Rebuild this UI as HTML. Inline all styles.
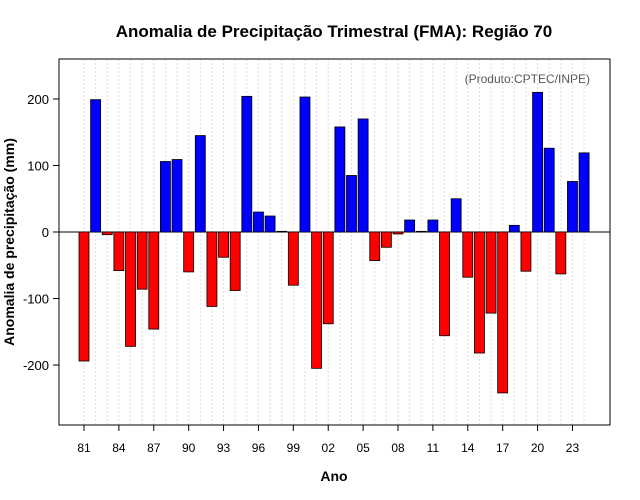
<!DOCTYPE html>
<html><head><meta charset="utf-8"><style>
body{margin:0;background:#fff;}
svg{display:block;font-family:"Liberation Sans",Arial,sans-serif;}
</style></head><body>
<svg id="chart" width="640" height="500">
<text x="334" y="37" text-anchor="middle" font-size="17" font-weight="bold">Anomalia de Precipitação Trimestral (FMA): Região 70</text>
<text x="590" y="83" text-anchor="end" font-size="12" fill="#555">(Produto:CPTEC/INPE)</text>
<text x="334" y="481" text-anchor="middle" font-size="14" font-weight="bold">Ano</text>
<text transform="translate(14,242) rotate(-90)" text-anchor="middle" font-size="14" font-weight="bold">Anomalia de precipitação (mm)</text>
<g id="grid"></g><g id="bars"></g><g id="axes"></g>
<rect x="59" y="59" width="551" height="366" fill="none" stroke="#000"/>
</svg>
<script>
const years=[81,82,83,84,85,86,87,88,89,90,91,92,93,94,95,96,97,98,99,0,1,2,3,4,5,6,7,8,9,10,11,12,13,14,15,16,17,18,19,20,21,22,23,24];
const values=[-194,199,-4,-58,-172,-86,-146,106,109,-60,145,-112,-38,-88,204,30,24,1,-80,203,-205,-138,158,85,170,-43,-23,-3,18,1,18,-156,50,-68,-182,-122,-242,10,-59,210,126,-63,76,119];
const yTicks=[-200,-100,0,100,200];
const xTickLabels=["81","84","87","90","93","96","99","02","05","08","11","14","17","20","23"];
const NS="http://www.w3.org/2000/svg";
const x=i=>84+i*11.63;
const y=v=>232-v*0.665;
const grid=document.getElementById('grid'),bars=document.getElementById('bars'),axes=document.getElementById('axes');
function mk(tag,a,p){const e=document.createElementNS(NS,tag);for(const k in a)e.setAttribute(k,a[k]);p.appendChild(e);return e;}
years.forEach((yr,i)=>{
 const g=mk('line',{x1:x(i),x2:x(i),y1:59,y2:425,stroke:'#ddd','stroke-dasharray':'2,2'},grid);
 
 
});
const zl=mk('line',{x1:59,x2:610,y1:y(0),y2:y(0),stroke:'#000'},grid);


values.forEach((v,i)=>{
 const top=Math.min(y(v),y(0)),h=Math.abs(y(v)-y(0));
 const r=mk('rect',{x:x(i)-5,y:top,width:10,height:Math.max(h,0.5),fill:v>=0?'#0000ff':'#ff0000',stroke:'#000','stroke-width':0.8},bars);
 
 
});
yTicks.forEach(t=>{
 mk('line',{x1:53,x2:59,y1:y(t),y2:y(t),stroke:'#000'},axes);
 const tx=mk('text',{x:49,y:y(t)+5,'text-anchor':'end','font-size':13},axes);
 tx.textContent=t;
 
 
});
xTickLabels.forEach((l,k)=>{
 const i=k*3;
 mk('line',{x1:x(i),x2:x(i),y1:425,y2:431,stroke:'#000'},axes);
 const tx=mk('text',{x:x(i),y:452,'text-anchor':'middle','font-size':12},axes);
 tx.textContent=l;
 
 
});
</script>
</body></html>
